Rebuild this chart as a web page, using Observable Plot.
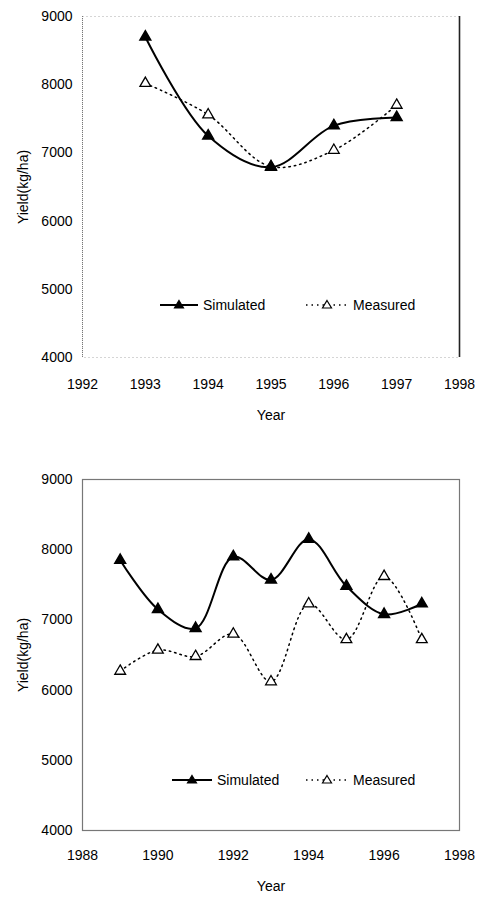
<!DOCTYPE html>
<html>
<head>
<meta charset="utf-8">
<script src="https://cdn.jsdelivr.net/npm/d3@7"></script>
<script src="https://cdn.jsdelivr.net/npm/@observablehq/plot@0.6"></script>
<style>
  body { margin: 0; background: #fff; font-family: "Liberation Sans", Arial, sans-serif; }
  .panel { position: relative; width: 481px; }
  .legend { position: absolute; display: flex; align-items: center; font-size: 14px; color: #000; }
  .legend .item { position: absolute; display: flex; align-items: center; white-space: nowrap; }
  .legend svg { display: block; }
</style>
</head>
<body>
<div id="p1" class="panel" style="height:450px"></div>
<div id="p2" class="panel" style="height:447px"></div>
<script>
// Panel 1 data
const years1 = [1993, 1994, 1995, 1996, 1997];
const simulated1 = [8700, 7250, 6790, 7400, 7520];
const measured1 = [8020, 7560, 6800, 7040, 7700];
const xTicks1 = [1992, 1993, 1994, 1995, 1996, 1997, 1998];

// Panel 2 data
const years2 = [1989, 1990, 1991, 1992, 1993, 1994, 1995, 1996, 1997];
const simulated2 = [7850, 7150, 6880, 7900, 7570, 8150, 7480, 7080, 7230];
const measured2 = [6270, 6570, 6480, 6800, 6120, 7230, 6720, 7620, 6720];
const xTicks2 = [1988, 1990, 1992, 1994, 1996, 1998];

const yTicks = [4000, 5000, 6000, 7000, 8000, 9000];
const seriesNames = ["Simulated", "Measured"];

function makePanel(opts) {
  const sData = opts.years.map((y, i) => ({year: y, value: opts.sim[i]}));
  const mData = opts.years.map((y, i) => ({year: y, value: opts.meas[i]}));
  const marks = [];
  if (opts.style === 1) {
    marks.push(Plot.frame({stroke: "#aaa", strokeDasharray: "1,3"}));
    marks.push(Plot.ruleX([opts.xDomain[0]], {stroke: "#777", strokeDasharray: "1,1"}));
    marks.push(Plot.ruleX([opts.xDomain[1]], {stroke: "#222", strokeWidth: 1.6}));
  } else {
    marks.push(Plot.frame({stroke: "#777", strokeWidth: 1.2}));
  }
  marks.push(
    Plot.line(mData, {x: "year", y: "value", curve: "catmull-rom", stroke: "#000", strokeWidth: 1.5, strokeDasharray: "1.5,4"}),
    Plot.line(sData, {x: "year", y: "value", curve: "catmull-rom", stroke: "#000", strokeWidth: 2}),
    Plot.dot(mData, {x: "year", y: "value", symbol: "triangle", r: 4, fill: "#fff", stroke: "#000", strokeWidth: 1.3}),
    Plot.dot(sData, {x: "year", y: "value", symbol: "triangle", r: 4, fill: "#000", stroke: "#000"})
  );
  return Plot.plot({
    width: 481,
    height: opts.height,
    marginLeft: 82,
    marginRight: 22,
    marginTop: opts.marginTop,
    marginBottom: opts.marginBottom,
    style: {fontFamily: "'Liberation Sans', Arial, sans-serif", fontSize: "14px", color: "#000", background: "#fff"},
    x: {domain: opts.xDomain, ticks: opts.xTicks, tickFormat: "d", label: "Year", labelAnchor: "center", labelArrow: "none",
        tickSize: 0, tickPadding: opts.xPad, labelOffset: opts.xLabelOffset},
    y: {domain: [4000, 9000], ticks: yTicks, tickFormat: "d", label: "Yield(kg/ha)", labelAnchor: "center", labelArrow: "none",
        tickSize: 0, tickPadding: 10, labelOffset: 64},
    marks
  });
}

function legend(container, top, items) {
  const lg = document.createElement("div");
  lg.className = "legend";
  lg.style.top = top + "px";
  lg.style.left = "0px";
  items.forEach(it => {
    const d = document.createElement("div");
    d.className = "item";
    d.style.left = it.left + "px";
    d.style.top = "-9px";
    const dash = it.dashed ? 'stroke-dasharray="1.5,4" stroke-width="1.5"' : 'stroke-width="2"';
    const fill = it.filled ? "#000" : "#fff";
    d.innerHTML = `<svg width="${it.w}" height="18"><line x1="0" y1="9" x2="${it.w}" y2="9" stroke="#000" ${dash}/>` +
      `<path d="M${it.w/2},4.5 L${it.w/2+4.5},12 L${it.w/2-4.5},12 Z" fill="${fill}" stroke="#000" stroke-width="1.2"/></svg>` +
      `<span style="margin-left:5px">${it.name}</span>`;
    lg.appendChild(d);
  });
  container.appendChild(lg);
}

const p1 = document.getElementById("p1");
p1.appendChild(makePanel({years: years1, sim: simulated1, meas: measured1, xDomain: [1992, 1998], xTicks: xTicks1,
  height: 450, marginTop: 16, marginBottom: 93, xPad: 22, xLabelOffset: 62, style: 1}));
legend(p1, 305, [
  {left: 160, w: 38, filled: true, dashed: false, name: seriesNames[0]},
  {left: 306, w: 42, filled: false, dashed: true, name: seriesNames[1]}
]);

const p2 = document.getElementById("p2");
p2.appendChild(makePanel({years: years2, sim: simulated2, meas: measured2, xDomain: [1988, 1998], xTicks: xTicks2,
  height: 447, marginTop: 29, marginBottom: 67, xPad: 20, xLabelOffset: 60, style: 2}));
legend(p2, 330, [
  {left: 172, w: 40, filled: true, dashed: false, name: seriesNames[0]},
  {left: 306, w: 42, filled: false, dashed: true, name: seriesNames[1]}
]);
</script>
</body>
</html>
